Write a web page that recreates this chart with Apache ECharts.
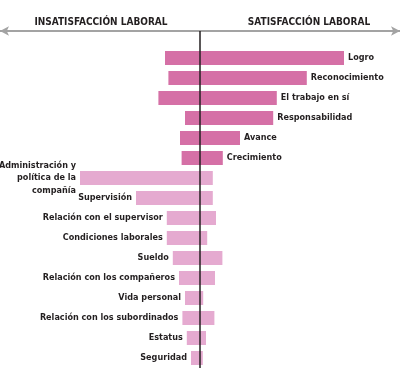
<!DOCTYPE html>
<html><head><meta charset="utf-8">
<script src="https://cdn.jsdelivr.net/npm/echarts@6/dist/echarts.min.js"></script>
<style>html,body{margin:0;padding:0;background:#fff}#c{width:400px;height:380px}</style>
</head><body><div id="c"></div>
<script>
const categories = ['Logro','Reconocimiento','El trabajo en sí','Responsabilidad','Avance','Crecimiento',
  'Administración y\npolítica de la\ncompañía','Supervisión','Relación con el supervisor','Condiciones laborales',
  'Sueldo','Relación con los compañeros','Vida personal','Relación con los subordinados','Estatus','Seguridad'];
const dissatisfaction = [8.75, 7.9, 10.4, 3.75, 5, 4.6, 30, 16, 8.3, 8.3, 6.8, 5.25, 3.75, 4.4, 3.3, 2.25];
const satisfaction = [36, 26.7, 19.2, 18.3, 10, 5.7, 3.2, 3.2, 4, 1.8, 5.6, 3.75, 0.8, 3.6, 1.5, 0.7];
const factorType = ['motivador','motivador','motivador','motivador','motivador','motivador',
  'higiene','higiene','higiene','higiene','higiene','higiene','higiene','higiene','higiene','higiene'];
const headers = ['INSATISFACCIÓN LABORAL','SATISFACCIÓN LABORAL'];

const colors = {motivador:'#d570a6', higiene:'#e5aad0'};
const FAM = "'DejaVu Sans Condensed', 'DejaVu Sans', sans-serif";
const font = {fontFamily:FAM, fontWeight:'bold', fontSize:9, color:'#231f20'};

const chart = echarts.init(document.getElementById('c'), null, {renderer:'canvas'});
chart.setOption({
  animation:false,
  title:[
    {text:headers[0], left:96, top:12, textAlign:'center', textStyle:{fontFamily:FAM, fontWeight:'bold', fontSize:10, color:'#231f20'}},
    {text:headers[1], left:304, top:12, textAlign:'center', textStyle:{fontFamily:FAM, fontWeight:'bold', fontSize:10, color:'#231f20'}}
  ],
  grid:{left:0, right:0, top:48, bottom:12},
  xAxis:{type:'value', min:-50, max:50, position:'top', offset:17,
    axisLabel:{show:false}, axisTick:{show:false}, splitLine:{show:false},
    axisLine:{show:true, symbol:['arrow','arrow'], symbolSize:[7,9], lineStyle:{color:'#a3a3a3', width:2}}},
  yAxis:{type:'category', inverse:true, data:categories,
    axisLabel:{show:false}, axisTick:{show:false}, axisLine:{show:false}},
  series:[
    {type:'bar', name:'Insatisfacción', barWidth:14, barGap:'-100%',
      data:dissatisfaction.map((v,i)=>({value:-v, itemStyle:{color:colors[factorType[i]]},
        label: factorType[i]==='higiene' ? Object.assign({show:true, position:'left', distance:4, lineHeight:12.5, align:'right', formatter:categories[i]}, font) : {show:false}}))},
    {type:'bar', name:'Satisfacción', barWidth:14, barGap:'-100%',
      data:satisfaction.map((v,i)=>({value:v, itemStyle:{color:colors[factorType[i]]},
        label: factorType[i]==='motivador' ? Object.assign({show:true, position:'right', distance:4, formatter:categories[i]}, font) : {show:false}}))}
  ]
});
const x0 = chart.convertToPixel({xAxisIndex:0}, 0);
chart.setOption({graphic:[{type:'line', shape:{x1:x0, y1:31, x2:x0, y2:368}, style:{stroke:'#231f20', lineWidth:1.5}, z:100}]});
</script></body></html>
